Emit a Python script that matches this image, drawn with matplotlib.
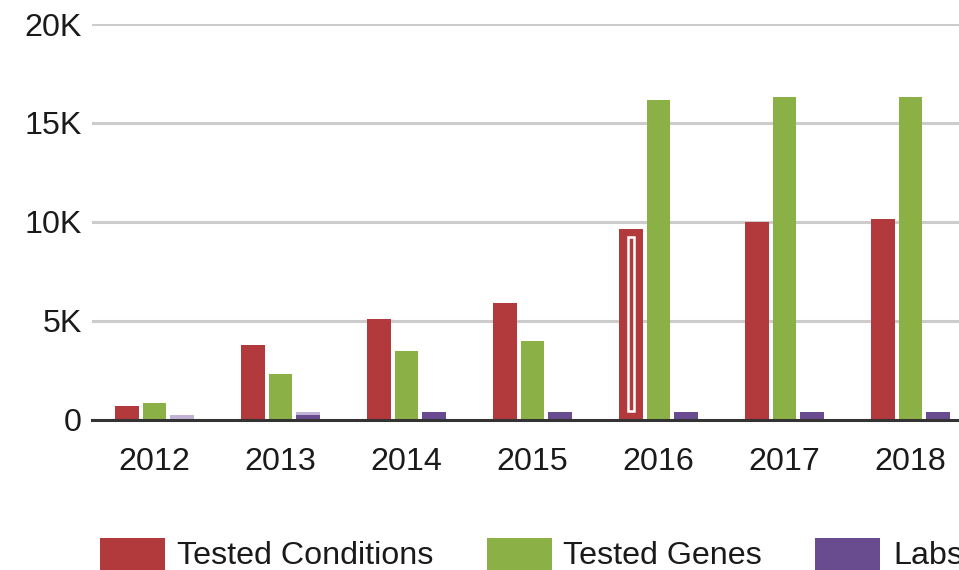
import matplotlib
matplotlib.use("Agg")
import matplotlib.pyplot as plt
import numpy as np
from matplotlib.patches import Rectangle

years = ["2012", "2013", "2014", "2015", "2016", "2017", "2018"]
tested_conditions = [680, 3760, 5080, 5880, 9650, 9970, 10120]
tested_genes = [830, 2300, 3460, 3960, 16140, 16290, 16290]
labs = [0, 230, 380, 380, 380, 380, 380]
labs_faded = [230, 380, 0, 0, 0, 0, 0]   # light (still animating) part of the Labs bars
y_ticks = [0, 5000, 10000, 15000, 20000]
y_tick_labels = ["0", "5K", "10K", "15K", "20K"]
legend_labels = ["Tested Conditions", "Tested Genes", "Labs"]

RED = "#b2393c"
GREEN = "#8bb046"
PURPLE = "#694c8f"
PURPLE_LIGHT = "#c0b3d6"
TEXT = "#1a1a1a"
FS = 23.2

plt.rcParams["font.family"] = ["Liberation Sans", "DejaVu Sans"]

W, H = 959, 570
fig = plt.figure(figsize=(W / 100, H / 100), dpi=100)
ax = fig.add_axes([91.5 / W, 150.5 / H, 882 / W, 395.5 / H])

x = np.arange(len(years))
step = 0.218
width = 0.187

ax.bar(x - step, tested_conditions, width, color=RED, zorder=3)
ax.bar(x, tested_genes, width, color=GREEN, zorder=3)
ax.bar(x + step, labs_faded, width, color=PURPLE_LIGHT, zorder=3)
ax.bar(x + step, labs, width, color=PURPLE, zorder=4)

# hover highlight on the 2016 "Tested Conditions" bar
i = years.index("2016")
v = tested_conditions[i]
ax.add_patch(Rectangle((i - step - 0.026, 450), 0.052, v - 400 - 450,
                       fill=False, edgecolor="white", linewidth=1.8, zorder=5))

ax.set_xlim(-0.5, len(years) - 0.5)
ax.set_ylim(0, 20000)
ax.set_yticks(y_ticks)
ax.set_yticklabels(y_tick_labels)
ax.set_xticks(x)
ax.set_xticklabels(years)
ax.yaxis.grid(True, color="#cccccc", linewidth=2.2, zorder=0)
ax.set_axisbelow(True)
ax.tick_params(axis="both", length=0, labelsize=FS, labelcolor=TEXT)
ax.tick_params(axis="y", pad=7)
ax.tick_params(axis="x", pad=20)
for side in ["top", "right", "left"]:
    ax.spines[side].set_visible(False)
ax.spines["bottom"].set_color("#333333")
ax.spines["bottom"].set_linewidth(2.2)
ax.spines["bottom"].set_zorder(6)

# legend along the bottom edge
legend_boxes = [(100, 177), (487, 563), (815, 893)]
for (bx, tx), label, col in zip(legend_boxes, legend_labels, [RED, GREEN, PURPLE]):
    fig.patches.append(Rectangle((bx / W, 0), 65 / W, 32 / H, transform=fig.transFigure,
                                 facecolor=col, edgecolor="none"))
    fig.text(tx / W, 1 - 556 / H, label, fontsize=FS, color=TEXT,
             ha="left", va="center")

fig.savefig("out.png", dpi=100)
